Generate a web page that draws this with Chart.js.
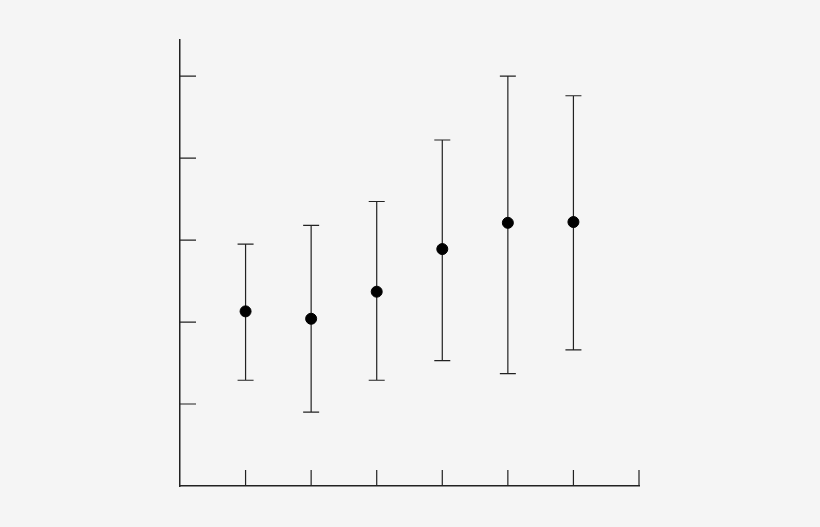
<!DOCTYPE html>
<html>
<head>
<meta charset="utf-8">
<script src="https://cdn.jsdelivr.net/npm/chart.js@4/dist/chart.umd.min.js"></script>
<style>
    html, body { margin: 0; padding: 0; background: #f5f5f5; }
    #errChart { display: block; }
</style>
</head>
<body>
<canvas id="errChart" width="820" height="527"></canvas>
<script>
const categories = [1, 2, 3, 4, 5, 6];
const means = [2.13, 2.04, 2.37, 2.89, 3.21, 3.22];
const upper = [2.95, 3.18, 3.47, 4.22, 5.00, 4.76];
const lower = [1.29, 0.90, 1.29, 1.53, 1.37, 1.66];
const xTicks = [1, 2, 3, 4, 5, 6, 7];
const yTicks = [1, 2, 3, 4, 5];

const inkColor = '#222';

// error bars with caps, drawn under the points
const errorBars = {
    id: 'errorBars',
    beforeDatasetsDraw(chart) {
        const { ctx, scales: { x, y } } = chart;
        ctx.save();
        ctx.strokeStyle = inkColor;
        ctx.lineWidth = 1.2;
        categories.forEach((c, i) => {
            const px = x.getPixelForValue(c);
            const top = y.getPixelForValue(upper[i]);
            const bot = y.getPixelForValue(lower[i]);
            ctx.beginPath();
            ctx.moveTo(px, top);
            ctx.lineTo(px, bot);
            ctx.moveTo(px - 8, top);
            ctx.lineTo(px + 8, top);
            ctx.moveTo(px - 8, bot);
            ctx.lineTo(px + 8, bot);
            ctx.stroke();
        });
        ctx.restore();
    }
};

// tick marks pointing into the plot
const innerTicks = {
    id: 'innerTicks',
    afterDraw(chart) {
        const { ctx, chartArea, scales: { x, y } } = chart;
        ctx.save();
        ctx.strokeStyle = inkColor;
        ctx.lineWidth = 1.2;
        ctx.beginPath();
        xTicks.forEach(t => {
            const px = x.getPixelForValue(t);
            ctx.moveTo(px, chartArea.bottom);
            ctx.lineTo(px, chartArea.bottom - 16);
        });
        yTicks.forEach(t => {
            const py = y.getPixelForValue(t);
            ctx.moveTo(chartArea.left, py);
            ctx.lineTo(chartArea.left + 16, py);
        });
        ctx.stroke();
        ctx.restore();
    }
};

new Chart(document.getElementById('errChart'), {
    type: 'scatter',
    data: {
        datasets: [{
            data: categories.map((c, i) => ({ x: c, y: means[i] })),
            backgroundColor: '#000',
            borderColor: '#000',
            pointRadius: 5.5,
            pointHoverRadius: 5.5
        }]
    },
    options: {
        responsive: false,
        animation: false,
        devicePixelRatio: 1,
        layout: {
            padding: { left: 180, right: 181, top: 40, bottom: 41 }
        },
        plugins: {
            legend: { display: false },
            tooltip: { enabled: false }
        },
        scales: {
            x: {
                type: 'linear',
                min: 0,
                max: 7,
                ticks: { display: false },
                grid: { display: false, drawTicks: false },
                border: { display: true, color: inkColor, width: 1.5 }
            },
            y: {
                min: 0,
                max: 5.44,
                ticks: { display: false },
                grid: { display: false, drawTicks: false },
                border: { display: true, color: inkColor, width: 1.5 }
            }
        }
    },
    plugins: [errorBars, innerTicks]
});
</script>
</body>
</html>
